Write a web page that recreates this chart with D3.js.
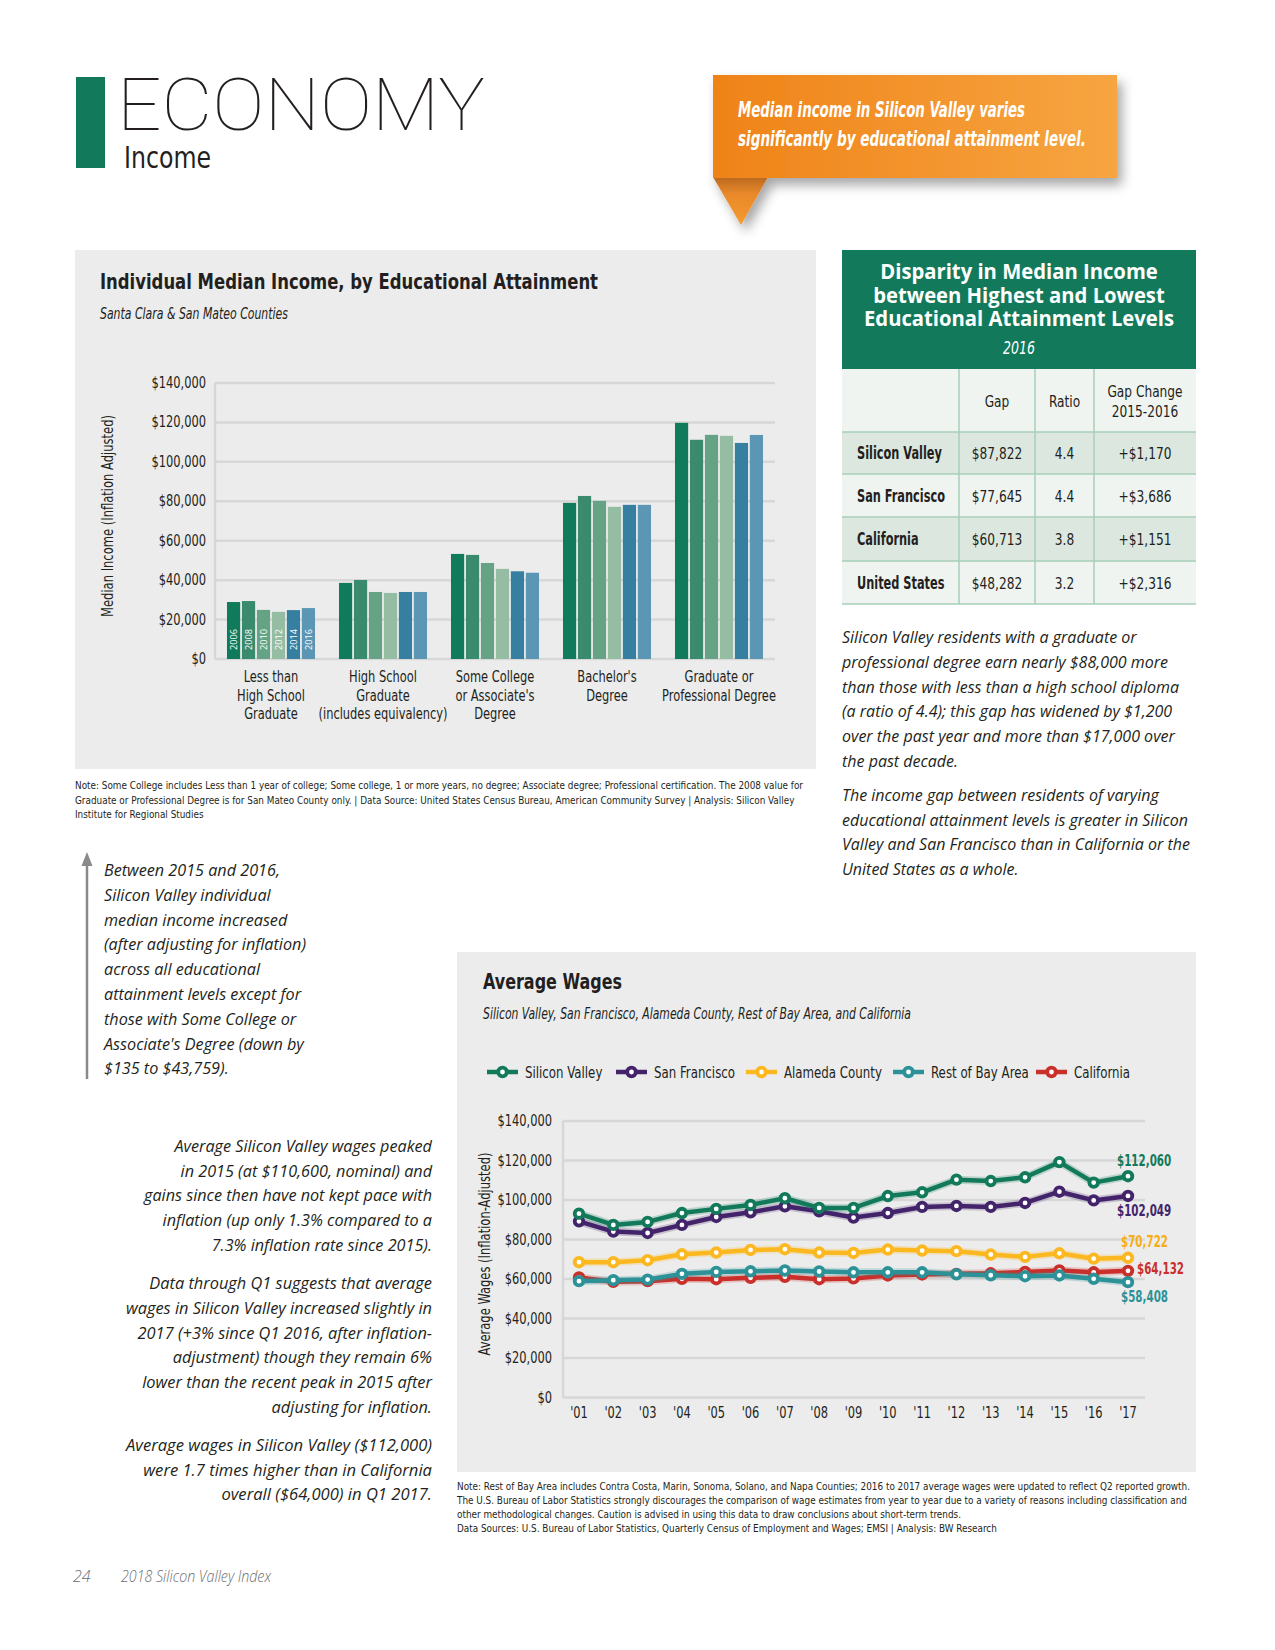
<!DOCTYPE html>
<html><head><meta charset="utf-8">
<script src="https://cdn.jsdelivr.net/npm/d3@7"></script>
<style>
html,body{margin:0;padding:0;background:#fff;}
svg{display:block;}
</style></head>
<body>
<svg id="page" width="1275" height="1650"></svg>
<script>
// ---------------- DATA ----------------
const incomeCategories = [
  ["Less than","High School","Graduate"],
  ["High School","Graduate","(includes equivalency)"],
  ["Some College","or Associate's","Degree"],
  ["Bachelor's","Degree"],
  ["Graduate or","Professional Degree"]
];
const incomeYears = ["2006","2008","2010","2012","2014","2016"];
const incomeLessHS      = [28900, 29400, 24900, 23900, 24800, 25830];
const incomeHS          = [38600, 40100, 34000, 33500, 34000, 34000];
const incomeSomeCollege = [53300, 52800, 48700, 45700, 44500, 43759];
const incomeBachelor    = [79200, 82700, 80200, 77200, 78200, 78200];
const incomeGraduate    = [119800, 111200, 113700, 113200, 109600, 113650];
const incomeTicks = [0, 20000, 40000, 60000, 80000, 100000, 120000, 140000];

const wageYears = ["'01","'02","'03","'04","'05","'06","'07","'08","'09","'10","'11","'12","'13","'14","'15","'16","'17"];
const wageSeriesNames = ["Silicon Valley","San Francisco","Alameda County","Rest of Bay Area","California"];
const svWages      = [93100, 87400, 88900, 93400, 95500, 97500, 100900, 96000, 96000, 102000, 103900, 110300, 109600, 111500, 119200, 108800, 112060];
const sfWages      = [89200, 84000, 83300, 87400, 91400, 93800, 96800, 94300, 91100, 93400, 96500, 97000, 96500, 98500, 104200, 99800, 102049];
const alamedaWages = [68500, 68500, 69500, 72500, 73400, 74700, 75100, 73400, 73200, 74900, 74400, 74100, 72400, 71200, 73000, 70300, 70722];
const restBayWages = [58900, 59400, 59700, 62600, 63600, 63900, 64300, 63800, 63400, 63400, 63400, 62400, 61900, 61400, 61800, 60100, 58408];
const caWages      = [60800, 58600, 58900, 60100, 59900, 60600, 61100, 59900, 60300, 61800, 62300, 62600, 62900, 63600, 64300, 63400, 64132];
const wageTicks = [0, 20000, 40000, 60000, 80000, 100000, 120000, 140000];

const tableRegions = ["Silicon Valley","San Francisco","California","United States"];
const tableGap     = ["$87,822","$77,645","$60,713","$48,282"];
const tableRatio   = ["4.4","4.4","3.8","3.2"];
const tableChange  = ["+$1,170","+$3,686","+$1,151","+$2,316"];

// ---------------- STYLE ----------------
const COND = "'Liberation Sans Narrow','DejaVu Sans Condensed','Roboto Condensed','Open Sans Condensed',Roboto,sans-serif";
const SANS = "'Open Sans','Noto Sans','DejaVu Sans',sans-serif";
const THIN = "Roboto,Lato,Inter,'Open Sans',sans-serif";
const barColors = ["#117a5a","#3a8b6d","#64a485","#95bda3","#367fa1","#5c96b5"];
const wageColors = ["#127a5b","#43246b","#fbb821","#2c9298","#c9302b"];
const GRID = "#d7d7d7";

const svg = d3.select("#page");
const defs = svg.append("defs");

function txt(g, s, x, y, o = {}) {
  const fam = o.family || COND;
  const t = g.append("text").attr("x", x).attr("y", y).text(s)
    .attr("font-family", fam)
    .attr("font-size", o.size || 15)
    .attr("fill", o.fill || "#231f20");
  if (o.weight) t.attr("font-weight", o.weight);
  if (o.style) t.attr("font-style", o.style);
  if (o.anchor) t.attr("text-anchor", o.anchor);
  if (o.w) {
    t.attr("textLength", o.w).attr("lengthAdjust", "spacingAndGlyphs");
  } else if (fam === COND && !o.nofit) {
    const len = t.node().getComputedTextLength();
    const k = o.k || (o.weight ? 0.74 : 0.82);
    t.attr("textLength", len * k).attr("lengthAdjust", "spacingAndGlyphs");
  }
  return t;
}
function block(g, lines, x, y0, lh, o, maxW) {
  const oo = Object.assign({}, o, {nofit: true});
  const ts = lines.map((l, i) => txt(g, l, x, y0 + i * lh, oo));
  if (maxW) {
    const ws = ts.map(t => t.node().getComputedTextLength());
    const s = maxW / d3.max(ws);
    ts.forEach((t, i) => t.attr("textLength", ws[i] * s).attr("lengthAdjust", "spacingAndGlyphs"));
  }
  return ts;
}

// ---------------- HEADER ----------------
svg.append("rect").attr("x", 76).attr("y", 77).attr("width", 29).attr("height", 91).attr("fill", "#127a5b");
txt(svg, "ECONOMY", 117, 130, {family: THIN, size: 72, weight: 100, fill: "#231f20", w: 368});
txt(svg, "Income", 124, 168, {size: 30, fill: "#231f20", w: 87});

// Orange callout
const og = defs.append("linearGradient").attr("id", "og").attr("x1", "0").attr("x2", "1").attr("y1", "0").attr("y2", "0");
og.append("stop").attr("offset", "0").attr("stop-color", "#ef8318");
og.append("stop").attr("offset", "1").attr("stop-color", "#f7a541");
const tg = defs.append("linearGradient").attr("id", "tg").attr("x1", "0").attr("x2", "0").attr("y1", "0").attr("y2", "1");
tg.append("stop").attr("offset", "0").attr("stop-color", "#b9681f");
tg.append("stop").attr("offset", "0.35").attr("stop-color", "#e9892a");
tg.append("stop").attr("offset", "1").attr("stop-color", "#f49a30");
const sh = defs.append("filter").attr("id", "sh").attr("x", "-10%").attr("y", "-10%").attr("width", "130%").attr("height", "150%");
sh.append("feDropShadow").attr("dx", 5).attr("dy", 7).attr("stdDeviation", 6).attr("flood-color", "#000").attr("flood-opacity", 0.35);
const cg = svg.append("g").attr("filter", "url(#sh)");
cg.append("path").attr("d", "M713,177 L768,177 L741,225 Z").attr("fill", "url(#tg)");
cg.append("rect").attr("x", 713).attr("y", 75).attr("width", 404).attr("height", 103).attr("fill", "url(#og)");
txt(svg, "Median income in Silicon Valley varies", 738, 117, {size: 21, weight: 700, style: "italic", fill: "#fff", w: 287});
txt(svg, "significantly by educational attainment level.", 738, 146, {size: 21, weight: 700, style: "italic", fill: "#fff", w: 348});

// ---------------- BAR CHART PANEL ----------------
svg.append("rect").attr("x", 75).attr("y", 250).attr("width", 741).attr("height", 519).attr("fill", "#ececec");
txt(svg, "Individual Median Income, by Educational Attainment", 100, 289, {size: 21, weight: 700, w: 498});
txt(svg, "Santa Clara & San Mateo Counties", 100, 319, {size: 15, style: "italic", w: 188});

const incomeSeries = [incomeLessHS, incomeHS, incomeSomeCollege, incomeBachelor, incomeGraduate];
const x0 = d3.scaleBand().domain(d3.range(incomeCategories.length)).range([215, 775]).paddingInner(0.214).paddingOuter(0.107);
const x1 = d3.scaleBand().domain(incomeYears).range([0, x0.bandwidth()]).paddingInner(0.12).paddingOuter(0);
const yB = d3.scaleLinear().domain([0, 140000]).range([659, 383]);
const fmt = d3.format("$,");

const bg = svg.append("g");
bg.selectAll("line.grid").data(incomeTicks).join("line")
  .attr("x1", 215).attr("x2", 775).attr("y1", d => yB(d)).attr("y2", d => yB(d))
  .attr("stroke", GRID).attr("stroke-width", 2.5);
bg.append("line").attr("x1", 215).attr("x2", 215).attr("y1", yB(140000)).attr("y2", yB(0)).attr("stroke", GRID).attr("stroke-width", 2.5);
incomeTicks.forEach(t => txt(bg, fmt(t), 206, yB(t) + 5, {size: 15.5, anchor: "end"}));
txt(bg, "Median Income (Inflation Adjusted)", 0, 0, {size: 15, anchor: "middle", w: 202})
  .attr("transform", `translate(113,516) rotate(-90)`);

incomeSeries.forEach((vals, ci) => {
  const g = bg.append("g").attr("transform", `translate(${x0(ci)},0)`);
  g.selectAll("rect").data(vals).join("rect")
    .attr("x", (d, i) => x1(incomeYears[i])).attr("width", x1.bandwidth())
    .attr("y", d => yB(d)).attr("height", d => yB(0) - yB(d))
    .attr("fill", (d, i) => barColors[i]);
  if (ci === 0) {
    incomeYears.forEach(yr => {
      txt(g, yr, 0, 0, {family: SANS, size: 9.5, fill: "#fff", w: 21})
        .attr("transform", `translate(${x1(yr) + x1.bandwidth() / 2 + 3.5},650) rotate(-90)`);
    });
  }
  const cx = x0(ci) + x0.bandwidth() / 2;
  incomeCategories[ci].forEach((l, li) => txt(bg, l, cx, 682 + li * 18.5, {size: 15.5, anchor: "middle"}));
});

block(svg, [
  "Note: Some College includes Less than 1 year of college; Some college, 1 or more years, no degree; Associate degree; Professional certification. The 2008 value for",
  "Graduate or Professional Degree is for San Mateo County only.  |  Data Source: United States Census Bureau, American Community Survey  |  Analysis: Silicon Valley",
  "Institute for Regional Studies"
], 75, 789, 14.5, {size: 11, fill: "#231f20"}, 728);

// ---------------- TABLE ----------------
const tb = svg.append("g");
tb.append("rect").attr("x", 842).attr("y", 250).attr("width", 354).attr("height", 119).attr("fill", "#127a5b");
block(tb, ["Disparity in Median Income", "between Highest and Lowest", "Educational Attainment Levels"],
  1019, 279, 23.5, {family: SANS, size: 21, weight: 700, fill: "#fff", anchor: "middle"}, 310);
txt(tb, "2016", 1019, 354, {size: 17, style: "italic", fill: "#fff", anchor: "middle"});
const rowY = [369, 432, 474, 517, 561, 604];
const rowFill = ["#eff4f0", "#dce8df", "#eff4f0", "#dce8df", "#eff4f0"];
rowFill.forEach((f, i) => tb.append("rect").attr("x", 842).attr("width", 354).attr("y", rowY[i]).attr("height", rowY[i + 1] - rowY[i]).attr("fill", f));
rowY.slice(1).forEach(y => tb.append("line").attr("x1", 842).attr("x2", 1196).attr("y1", y).attr("y2", y).attr("stroke", "#a7cfb9").attr("stroke-width", 1.5));
[959, 1035, 1094].forEach(x => tb.append("line").attr("x1", x).attr("x2", x).attr("y1", 369).attr("y2", 604).attr("stroke", "#a7cfb9").attr("stroke-width", 1.5));
txt(tb, "Gap", 997, 407, {size: 16.5, anchor: "middle"});
txt(tb, "Ratio", 1064.5, 407, {size: 16.5, anchor: "middle"});
txt(tb, "Gap Change", 1145, 397, {size: 16.5, anchor: "middle"});
txt(tb, "2015-2016", 1145, 417, {size: 16.5, anchor: "middle"});
tableRegions.forEach((r, i) => {
  const cy = (rowY[i + 1] + rowY[i + 2]) / 2 + 6;
  txt(tb, r, 857, cy, {size: 18, weight: 700, k: 0.7});
  txt(tb, tableGap[i], 997, cy, {size: 16.5, anchor: "middle"});
  txt(tb, tableRatio[i], 1064.5, cy, {size: 16.5, anchor: "middle"});
  txt(tb, tableChange[i], 1145, cy, {size: 16.5, anchor: "middle"});
});

// ---------------- PARAGRAPHS ----------------
const para = {family: SANS, size: 15.5, style: "italic", fill: "#231f20"};
block(svg, [
  "Silicon Valley residents with a graduate or",
  "professional degree earn nearly $88,000 more",
  "than those with less than a high school diploma",
  "(a ratio of 4.4); this gap has widened by $1,200",
  "over the past year and more than $17,000 over",
  "the past decade."
], 842, 643, 24.8, para, 337);
block(svg, [
  "The income gap between residents of varying",
  "educational attainment levels is greater in Silicon",
  "Valley and San Francisco than in California or the",
  "United States as a whole."
], 842, 801, 24.7, para, 348);

// arrow + left block
svg.append("line").attr("x1", 87).attr("x2", 87).attr("y1", 1079).attr("y2", 862)
  .attr("stroke", "#8a8a8a").attr("stroke-width", 2.5);
svg.append("path").attr("d", "M81.5,866 L87,852 L92.5,866 Z").attr("fill", "#8a8a8a");
block(svg, [
  "Between 2015 and 2016,",
  "Silicon Valley individual",
  "median income increased",
  "(after adjusting for inflation)",
  "across all educational",
  "attainment levels except for",
  "those with Some College or",
  "Associate's Degree (down by",
  "$135 to $43,759)."
], 104, 876, 24.8, para, 202);
const paraR = Object.assign({}, para, {anchor: "end"});
block(svg, [
  "Average Silicon Valley wages peaked",
  "in 2015 (at $110,600, nominal) and",
  "gains since then have not kept pace with",
  "inflation (up only 1.3% compared to a",
  "7.3% inflation rate since 2015)."
], 432, 1152, 24.7, paraR, 288);
block(svg, [
  "Data through Q1 suggests that average",
  "wages in Silicon Valley increased slightly in",
  "2017 (+3% since Q1 2016, after inflation-",
  "adjustment) though they remain 6%",
  "lower than the recent peak in 2015 after",
  "adjusting for inflation."
], 432, 1289, 24.8, paraR, 306);
block(svg, [
  "Average wages in Silicon Valley ($112,000)",
  "were 1.7 times higher than in California",
  "overall ($64,000) in Q1 2017."
], 432, 1451, 24.5, paraR, 306);

// ---------------- LINE CHART PANEL ----------------
svg.append("rect").attr("x", 457).attr("y", 952).attr("width", 739).attr("height", 520).attr("fill", "#ececec");
txt(svg, "Average Wages", 483, 989, {size: 21, weight: 700, w: 139});
txt(svg, "Silicon Valley, San Francisco, Alameda County, Rest of Bay Area, and California", 483, 1019, {size: 15, style: "italic", w: 428});

const wageSeries = [svWages, sfWages, alamedaWages, restBayWages, caWages];
const xL = d3.scalePoint().domain(wageYears).range([579, 1128]);
const yL = d3.scaleLinear().domain([0, 140000]).range([1397.5, 1121]);
const lg = svg.append("g");
lg.selectAll("line.grid").data(wageTicks).join("line")
  .attr("x1", 563).attr("x2", 1145).attr("y1", d => yL(d)).attr("y2", d => yL(d))
  .attr("stroke", GRID).attr("stroke-width", 2.5);
lg.append("line").attr("x1", 563).attr("x2", 563).attr("y1", yL(140000)).attr("y2", yL(0)).attr("stroke", GRID).attr("stroke-width", 2.5);
wageTicks.forEach(t => txt(lg, fmt(t), 552, yL(t) + 5, {size: 15.5, anchor: "end"}));
wageYears.forEach(y => txt(lg, y, xL(y), 1418, {size: 15.5, anchor: "middle"}));
txt(lg, "Average Wages (Inflation-Adjusted)", 0, 0, {size: 15, anchor: "middle", w: 203})
  .attr("transform", `translate(490,1254) rotate(-90)`);

// legend
const legX = [487, 616, 746, 893, 1036];
wageSeriesNames.forEach((n, i) => {
  const g = lg.append("g");
  g.append("line").attr("x1", legX[i]).attr("x2", legX[i] + 31).attr("y1", 1072).attr("y2", 1072)
    .attr("stroke", wageColors[i]).attr("stroke-width", 4.5);
  g.append("circle").attr("cx", legX[i] + 15.5).attr("cy", 1072).attr("r", 4.3)
    .attr("fill", "#fff").attr("stroke", wageColors[i]).attr("stroke-width", 3.8);
  txt(g, n, legX[i] + 38, 1077.5, {size: 16});
});

const line = d3.line().x((d, i) => xL(wageYears[i])).y(d => yL(d));
[4, 3, 2, 1, 0].forEach(si => {
  const g = lg.append("g");
  g.append("path").datum(wageSeries[si]).attr("d", line).attr("fill", "none")
    .attr("stroke", wageColors[si]).attr("stroke-opacity", 0.22).attr("stroke-width", 8).attr("stroke-linejoin", "round");
  g.append("path").datum(wageSeries[si]).attr("d", line).attr("fill", "none")
    .attr("stroke", wageColors[si]).attr("stroke-width", 4.5).attr("stroke-linejoin", "round");
  g.selectAll("circle").data(wageSeries[si]).join("circle")
    .attr("cx", (d, i) => xL(wageYears[i])).attr("cy", d => yL(d)).attr("r", 4.3)
    .attr("fill", "#fff").attr("stroke", wageColors[si]).attr("stroke-width", 3.8);
});
// end labels
const endDx = [-11, -11, -7, -7, 9];
const endDy = [-10, 20, -11, 20, 3];
wageSeries.forEach((s, i) => {
  const v = s[s.length - 1];
  txt(lg, fmt(v), xL(wageYears[wageYears.length - 1]) + endDx[i], yL(v) + endDy[i],
    {size: 15.5, weight: 700, fill: i === 2 ? "#f6ae16" : wageColors[i]});
});

block(svg, [
  "Note: Rest of Bay Area includes Contra Costa, Marin, Sonoma, Solano, and Napa Counties; 2016 to 2017 average wages were updated to reflect Q2 reported growth.",
  "The U.S. Bureau of Labor Statistics strongly discourages the comparison of wage estimates from year to year due to a variety of reasons including classification and",
  "other methodological changes. Caution is advised in using this data to draw conclusions about short-term trends.",
  "Data Sources: U.S. Bureau of Labor Statistics, Quarterly Census of Employment and Wages; EMSI  |  Analysis: BW Research"
], 457, 1490, 14, {size: 11, fill: "#231f20"}, 733);

// ---------------- FOOTER ----------------
txt(svg, "24", 73, 1582, {family: SANS, size: 16, style: "italic", weight: 300, fill: "#6d6e71"});
txt(svg, "2018 Silicon Valley Index", 121, 1582, {family: SANS, size: 16, style: "italic", weight: 300, fill: "#6d6e71", w: 150});
</script>
</body></html>
